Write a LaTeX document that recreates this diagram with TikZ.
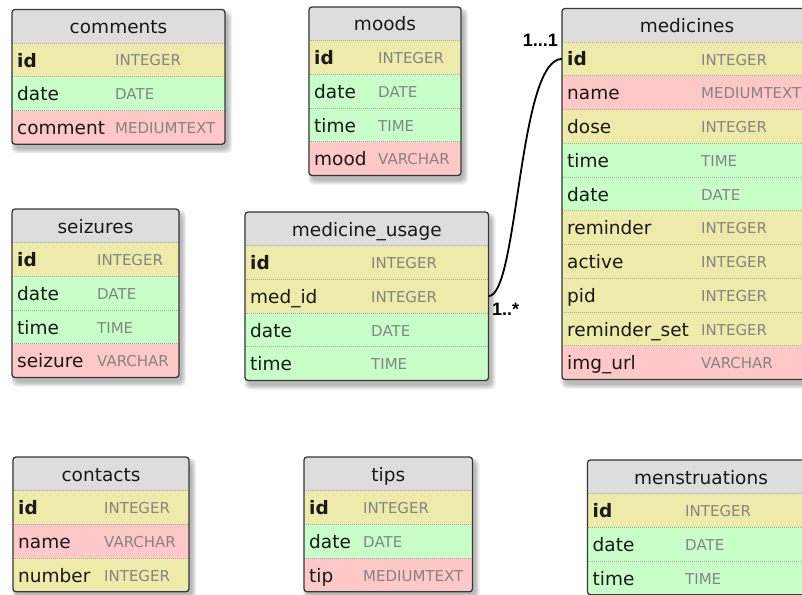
\documentclass[tikz,border=0pt]{standalone}
\usepackage{fontspec}
\setmainfont{DejaVu Sans}
\newfontfamily\cardfont{Liberation Sans}

\definecolor{hdrgray}{RGB}{221,221,221}
\definecolor{keyyel}{RGB}{238,234,170}
\definecolor{valgrn}{RGB}{200,255,200}
\definecolor{txtpnk}{RGB}{255,200,200}
\definecolor{typegray}{RGB}{132,132,132}
\definecolor{framegray}{RGB}{55,55,55}

\tikzset{
  fieldname/.style={anchor=base west, inner sep=0pt, text=black!90, font=\fontsize{18.5}{20}\selectfont},
  fieldtype/.style={anchor=base west, inner sep=0pt, text=typegray, font=\fontsize{15}{16}\selectfont},
  tabletitle/.style={anchor=base, inner sep=0pt, text=black!90, font=\fontsize{18.5}{20}\selectfont},
  rowcell/.style={anchor=north west, inner sep=0pt, outer sep=0pt, draw=none},
  rowsep/.style={draw=gray!70, line width=0.8pt, dash pattern=on 1pt off 1pt},
  tableframe/.style={draw=framegray, line width=1.3pt, rounded corners=3pt},
  cardlabel/.style={inner sep=0pt, font=\cardfont\bfseries\fontsize{18}{20}\selectfont},
  relation/.style={draw=black, line width=1.8pt},
}

% \erdtable{name}{left}{top}{width}{type column offset}{title}{field/type/colour,...}
\newcount\erdrows
\newcommand\erdtable[7]{%
  \global\erdrows=0
  \foreach \x in {#7}{\global\advance\erdrows by 1}
  \pgfmathsetmacro\tB{#3+33.5+33.75*\the\erdrows}
  \pgfmathsetmacro\tR{#2+#4}
  % soft drop shadow
  \foreach \e in {4,3,2,1,0} {
    \fill[black, fill opacity=0.06, rounded corners=5pt]
      (#2+3-\e, #3+5-\e) rectangle (\tR+3+\e, \tB+5+\e);
  }
  \begin{scope}
    \clip[rounded corners=3pt] (#2,#3) rectangle (\tR,\tB);
    \fill[hdrgray] (#2,#3) rectangle (\tR,#3+33.5);
    \foreach \fn/\ft/\fc [count=\i] in {#7} {
      \pgfmathsetmacro\rtop{#3+33.5+33.75*(\i-1)}
      \node[rowcell, fill=\fc, minimum width=#4pt, minimum height=33.75pt] (#1-\i) at (#2,\rtop) {};
      \draw[rowsep] (#2,\rtop) -- (\tR,\rtop);
      \node[fieldname] at (#2+5,\rtop+24) {\ifnum\i=1 \bfseries\fi\fn};
      \node[fieldtype] at (#2+#5,\rtop+23) {\ft};
    }
  \end{scope}
  \node[tabletitle] (#1) at ({#2+#4/2}, #3+24) {#6};
  \draw[tableframe] (#2,#3) rectangle (\tR,\tB);
}

\begin{document}
\begin{tikzpicture}[x=1pt, y=-1pt]
  \useasboundingbox (0,0) rectangle (802,594);
  \fill[white] (0,0) rectangle (802,594);
  \clip (0,0) rectangle (802,594);

  \erdtable{comments}{12}{9.5}{213}{103}{comments}
    {id/INTEGER/keyyel, date/DATE/valgrn, comment/MEDIUMTEXT/txtpnk}

  \erdtable{moods}{309}{7}{152}{69}{moods}
    {id/INTEGER/keyyel, date/DATE/valgrn, time/TIME/valgrn, mood/VARCHAR/txtpnk}

  \erdtable{medicines}{562}{8.5}{250}{139}{medicines}
    {id/INTEGER/keyyel, name/MEDIUMTEXT/txtpnk, dose/INTEGER/keyyel,
     time/TIME/valgrn, date/DATE/valgrn, reminder/INTEGER/keyyel,
     active/INTEGER/keyyel, pid/INTEGER/keyyel, reminder\_set/INTEGER/keyyel,
     img\_url/VARCHAR/txtpnk}

  \erdtable{seizures}{12}{209}{167}{85}{seizures}
    {id/INTEGER/keyyel, date/DATE/valgrn, time/TIME/valgrn, seizure/VARCHAR/txtpnk}

  \erdtable{medusage}{245}{212}{243.5}{126}{medicine\_usage}
    {id/INTEGER/keyyel, med\_id/INTEGER/keyyel, date/DATE/valgrn, time/TIME/valgrn}

  \erdtable{contacts}{13}{457}{176}{91}{contacts}
    {id/INTEGER/keyyel, name/VARCHAR/txtpnk, number/INTEGER/keyyel}

  \erdtable{tips}{304}{457}{168.5}{59}{tips}
    {id/INTEGER/keyyel, date/DATE/valgrn, tip/MEDIUMTEXT/txtpnk}

  \erdtable{menstruations}{587.5}{460}{227}{97.5}{menstruations}
    {id/INTEGER/keyyel, date/DATE/valgrn, time/TIME/valgrn}

  % medicine_usage.med_id -> medicines.id
  \draw[relation] (medusage-2.east) .. controls +(30,0) and +(-44,0) .. (medicines-1.west);
  \node[cardlabel, anchor=base east] (card-one) at (558,47) {1...1};
  \node[cardlabel, anchor=base west] (card-many) at (492,315) {1..*};
\end{tikzpicture}
\end{document}
